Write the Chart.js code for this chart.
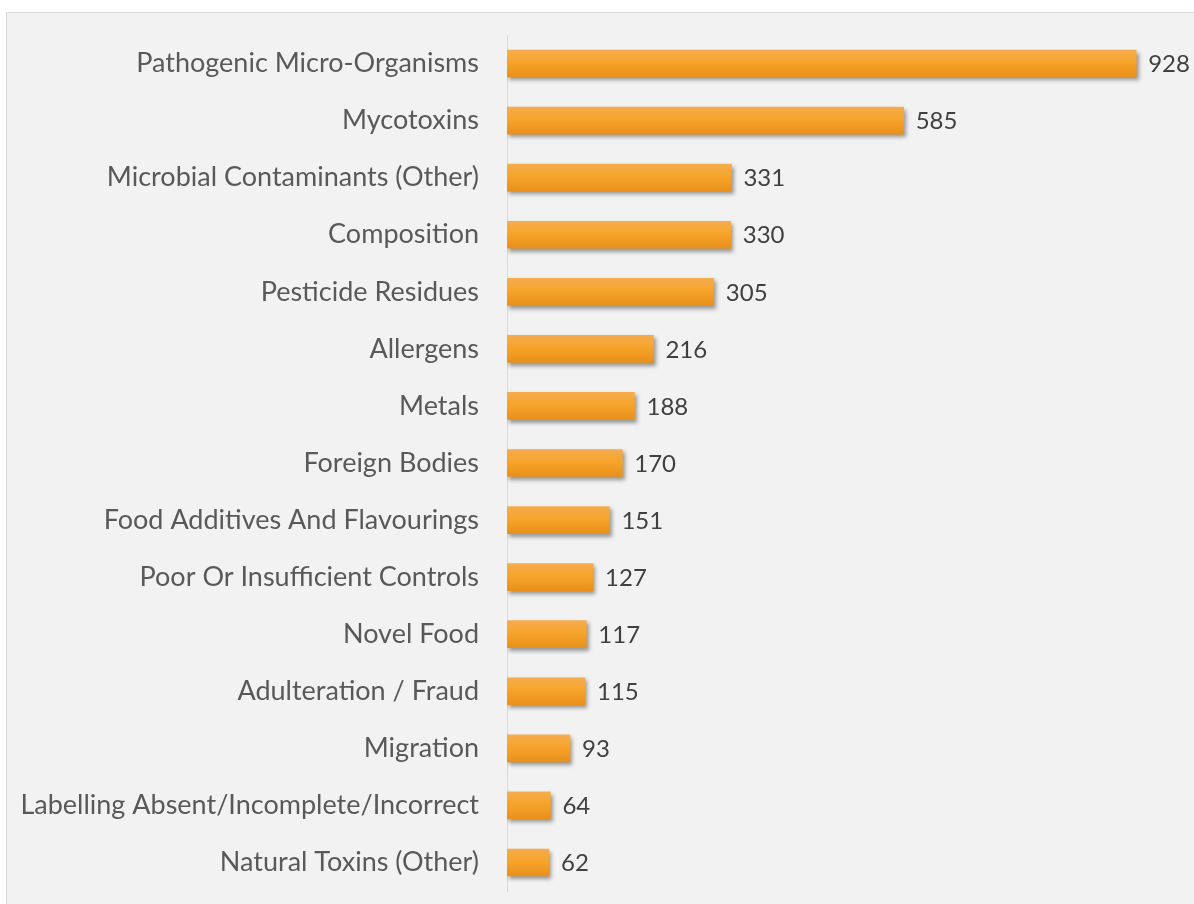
<!DOCTYPE html>
<html>
<head>
<meta charset="utf-8">
<script src="https://cdn.jsdelivr.net/npm/chart.js@4"></script>
<style>
  html, body { margin: 0; padding: 0; background: #ffffff; overflow: hidden; }
  #frame {
    position: absolute; left: 6px; top: 12px; width: 1200px; height: 900px;
    background: #f2f2f2; border: 1px solid #d9d9d9;
  }
  #barChart { position: absolute; left: 0; top: 0; }
</style>
</head>
<body>
<div id="frame"></div>
<canvas id="barChart" width="1194" height="904"></canvas>
<script>
var categories = [
  'Pathogenic Micro-Organisms',
  'Mycotoxins',
  'Microbial Contaminants (Other)',
  'Composition',
  'Pesticide Residues',
  'Allergens',
  'Metals',
  'Foreign Bodies',
  'Food Additives And Flavourings',
  'Poor Or Insufficient Controls',
  'Novel Food',
  'Adulteration / Fraud',
  'Migration',
  'Labelling Absent/Incomplete/Incorrect',
  'Natural Toxins (Other)'
];
var counts = [928, 585, 331, 330, 305, 216, 188, 170, 151, 127, 117, 115, 93, 64, 62];

var FONT = 'Lato';
var BAR_H = 27;

// soft drop shadow under the bars
var barShadow = {
  id: 'barShadow',
  beforeDatasetDraw: function(chart) {
    var ctx = chart.ctx;
    ctx.save();
    ctx.shadowColor = 'rgba(0,0,0,0.38)';
    ctx.shadowBlur = 4;
    ctx.shadowOffsetX = 2;
    ctx.shadowOffsetY = 3;
  },
  afterDatasetDraw: function(chart) {
    chart.ctx.restore();
  }
};

// value numbers at the end of each bar
var valueLabels = {
  id: 'valueLabels',
  afterDatasetsDraw: function(chart) {
    var ctx = chart.ctx;
    var meta = chart.getDatasetMeta(0);
    ctx.save();
    ctx.font = '24px ' + FONT;
    ctx.fillStyle = '#404040';
    ctx.textAlign = 'left';
    ctx.textBaseline = 'middle';
    meta.data.forEach(function(bar, i) {
      ctx.fillText(counts[i], bar.x + 12, bar.y + 1);
    });
    ctx.restore();
  }
};

function barFill(c) {
  var chart = c.chart;
  var y = chart.scales.y;
  if (!chart.chartArea || !y) return '#f5a02a';
  var mid = y.getPixelForValue(c.dataIndex);
  var g = chart.ctx.createLinearGradient(0, mid - BAR_H / 2, 0, mid + BAR_H / 2);
  g.addColorStop(0, '#f4ac4c');
  g.addColorStop(0.45, '#f7a42b');
  g.addColorStop(1, '#e8901a');
  return g;
}

var ctx = document.getElementById('barChart');
var chart = new Chart(ctx, {
  type: 'bar',
  data: {
    labels: categories,
    datasets: [{
      data: counts,
      backgroundColor: barFill,
      borderWidth: 0,
      barThickness: BAR_H
    }]
  },
  options: {
    indexAxis: 'y',
    responsive: false,
    animation: false,
    layout: { padding: { left: 0, right: 9, top: 35, bottom: 13 } },
    plugins: {
      legend: { display: false },
      tooltip: { enabled: false },
      title: { display: false }
    },
    scales: {
      x: {
        display: false,
        min: 0,
        max: 1000
      },
      y: {
        afterFit: function(scale) {
          scale.width = 507;
          scale.paddingTop = 0;
          scale.paddingBottom = 0;
        },
        grid: { display: false, drawTicks: false },
        border: { display: true, color: '#d9d9d9', width: 1 },
        ticks: {
          padding: 28,
          color: '#595959',
          font: { family: FONT, size: 27 }
        }
      }
    }
  },
  plugins: [barShadow, valueLabels]
});
</script>
</body>
</html>
